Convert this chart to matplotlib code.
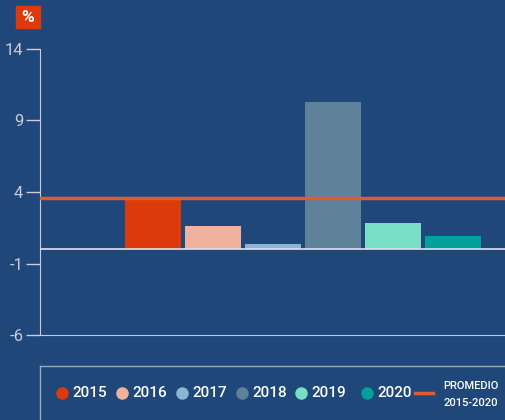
import matplotlib.pyplot as plt
from matplotlib.lines import Line2D
from matplotlib.patches import Rectangle

plt.rcParams['font.family'] = ['Roboto', 'DejaVu Sans']

# Data
years = ['2015', '2016', '2017', '2018', '2019', '2020']
values = [3.5, 1.6, 0.35, 10.3, 1.8, 0.9]
promedio = 3.55
yticks = [14, 9, 4, -1, -6]

bg = '#1f477a'
colors = ['#dc3a0a', '#f0b29e', '#8ab5d6', '#5e8299', '#7addc5', '#00a19a']
line_color = '#e05a32'
axis_color = '#c9ccd6'

fig = plt.figure(figsize=(5.06, 4.2), dpi=100, facecolor=bg)
ax = fig.add_axes([40 / 506, 85 / 420, 466 / 506, 286 / 420])
ax.set_facecolor(bg)

x = list(range(len(years)))
ax.bar(x, values, width=0.933, color=colors, zorder=2)
ax.axhline(0, color='#dfe3ea', lw=1.2, zorder=3)
ax.axhline(promedio, color=line_color, lw=2.5, zorder=4)

ax.set_xlim(-1.883, 5.883)
ax.set_ylim(-6, 14)
ax.set_yticks(yticks)
ax.set_yticklabels([str(t) for t in yticks])
ax.set_xticks([])
ax.tick_params(axis='y', colors=axis_color, length=10, width=1,
               labelsize=12, pad=2)
for s in ['top', 'right']:
    ax.spines[s].set_visible(False)
ax.spines['left'].set_color(axis_color)
ax.spines['bottom'].set_color(axis_color)

# "%" badge
fig.patches.append(Rectangle((16 / 506, 1 - 28 / 420), 24 / 506, 22 / 420,
                             transform=fig.transFigure, color='#dc3a0a'))
fig.text(28 / 506, 1 - 17 / 420, '%', color='white', fontsize=12.5,
         fontweight='bold', ha='center', va='center')

# Legend frame
fig.lines.append(Line2D([40 / 506, 1], [1 - 366 / 420] * 2,
                        transform=fig.transFigure, color='#9aa8c0', lw=1))
fig.lines.append(Line2D([40 / 506] * 2, [0, 1 - 366 / 420],
                        transform=fig.transFigure, color='#9aa8c0', lw=1))

# Legend items
marker_x = [62, 122, 182, 242, 301, 367]
ly = 1 - 393 / 420
for mx, yr, c in zip(marker_x, years, colors):
    fig.lines.append(Line2D([mx / 506], [ly], marker='o', markersize=8,
                            color=c, transform=fig.transFigure))
    fig.text((mx + 10) / 506, ly, yr, color='white', fontsize=11,
             fontweight='medium', va='center', ha='left')
fig.lines.append(Line2D([415 / 506, 433 / 506], [ly, ly], color=line_color,
                        lw=2.5, transform=fig.transFigure))
fig.text(443 / 506, 1 - 386 / 420, 'PROMEDIO', color='white', fontsize=8,
         fontweight='medium', va='center', ha='left')
fig.text(443 / 506, 1 - 403 / 420, '2015-2020', color='white', fontsize=8,
         fontweight='medium', va='center', ha='left')

fig.savefig('out.png', dpi=100, facecolor=bg)
